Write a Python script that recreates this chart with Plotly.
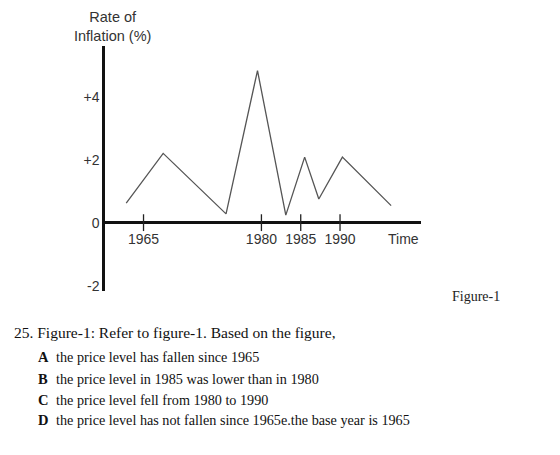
import plotly.graph_objects as go

# ---- data ----
years = [1962.8, 1967.5, 1975.5, 1979.5, 1983.1, 1985.5, 1987.3, 1990.3, 1996.5]
inflation = [0.62, 2.2, 0.28, 4.83, 0.24, 2.08, 0.75, 2.08, 0.54]
x_tick_years = [1965, 1980, 1985, 1990]
x_tick_labels = ["1965", "1980", "1985", "1990"]
y_tick_vals = [-2, 0, 2, 4]
y_tick_labels = ["-2", "0", "+2", "+4"]
y_title = "Rate of<br>Inflation (%)"
x_title = "Time"
question = "25. Figure-1: Refer to figure-1. Based on the figure,"
option_letters = ["A", "B", "C", "D"]
option_texts = [
    "the price level has fallen since 1965",
    "the price level in 1985 was lower than in 1980",
    "the price level fell from 1980 to 1990",
    "the price level has not fallen since 1965e.the base year is 1965",
]
caption = "Figure-1"

# ---- layout geometry (pixels) ----
W, H = 560, 455
L, R, T, B = 105, 139, 46, 164
xr = [1960.1, 2000.3]
yr = [-2.17, 5.61]
pw, ph = W - L - R, H - T - B


def px(x):
    return (x - L) / pw


def py(y):
    return (H - B - y) / ph


zero_pos = (0 - yr[0]) / (yr[1] - yr[0])

axis_font = dict(family="Liberation Sans", size=14, color="#333")
title_font = dict(family="Liberation Sans", size=14.5, color="#333")
serif = "Liberation Serif"

fig = go.Figure()
fig.add_trace(go.Scatter(x=years, y=inflation, mode="lines",
                         line=dict(color="#555", width=1.3),
                         hoverinfo="skip", showlegend=False))
fig.add_trace(go.Scatter(x=x_tick_years, y=[0] * len(x_tick_years), mode="markers",
                         marker=dict(symbol="line-ns", size=12,
                                     line=dict(width=1.3, color="#222")),
                         hoverinfo="skip", showlegend=False))

annotations = [
    dict(text=y_title, x=px(112), y=py(26.5), xref="paper", yref="paper",
         showarrow=False, xanchor="center", yanchor="middle", align="center",
         font=title_font),
    dict(text=x_title, x=px(403), y=py(239), xref="paper", yref="paper",
         showarrow=False, xanchor="center", yanchor="middle", font=axis_font),
    dict(text=question, x=px(12), y=py(332), xref="paper", yref="paper",
         showarrow=False, xanchor="left", yanchor="middle",
         font=dict(family=serif, size=15.5, color="#111")),
    dict(text=caption, x=px(450), y=py(296), xref="paper", yref="paper",
         showarrow=False, xanchor="left", yanchor="middle",
         font=dict(family=serif, size=14, color="#222")),
]
opt_y = [357, 379, 400, 420]
for letter, text, yy in zip(option_letters, option_texts, opt_y):
    annotations.append(dict(text="<b>" + letter + "</b>", x=px(36), y=py(yy),
                            xref="paper", yref="paper", showarrow=False,
                            xanchor="left", yanchor="middle",
                            font=dict(family=serif, size=14.5, color="#111")))
    annotations.append(dict(text=text, x=px(54), y=py(yy),
                            xref="paper", yref="paper", showarrow=False,
                            xanchor="left", yanchor="middle",
                            font=dict(family=serif, size=14.2, color="#111")))

fig.update_layout(
    width=W, height=H,
    margin=dict(l=L, r=R, t=T, b=B, pad=0),
    paper_bgcolor="white", plot_bgcolor="white",
    xaxis=dict(range=xr, showgrid=False, zeroline=False, showline=False,
               tickvals=x_tick_years, ticktext=x_tick_labels, ticks="",
               anchor="free", position=zero_pos, tickfont=axis_font,
               ticklabelstandoff=6),
    yaxis=dict(range=yr, showgrid=False, zeroline=True, zerolinecolor="#111",
               zerolinewidth=2.5, showline=True, linecolor="#111", linewidth=2.5,
               tickvals=y_tick_vals, ticktext=y_tick_labels, ticks="",
               tickfont=axis_font, ticklabelstandoff=0),
    annotations=annotations,
    showlegend=False,
)

fig.write_html("out.html")
